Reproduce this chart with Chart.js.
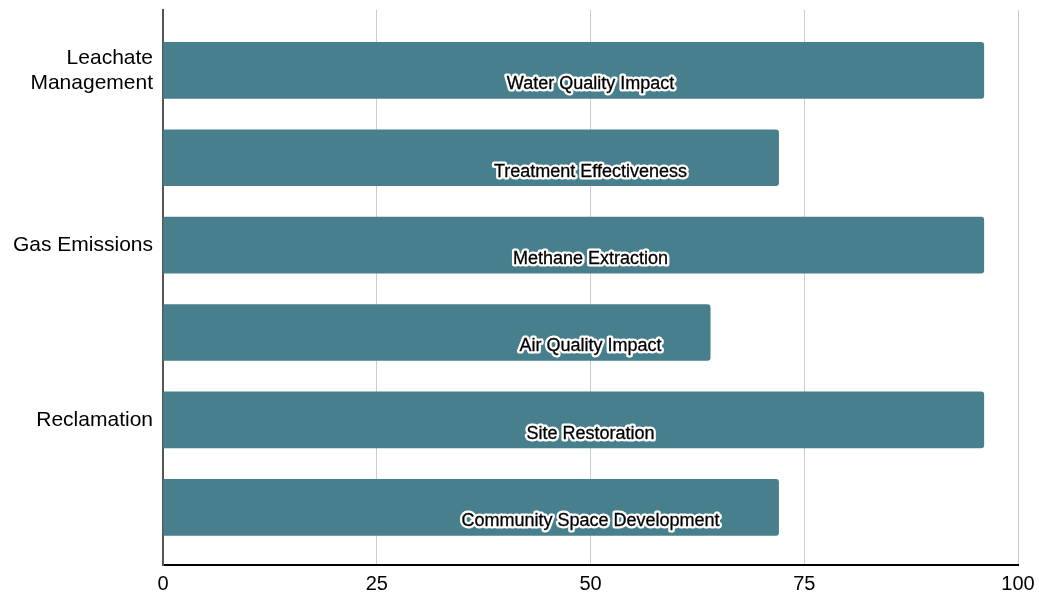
<!DOCTYPE html>
<html>
<head>
<meta charset="utf-8">
<script src="https://cdn.jsdelivr.net/npm/chart.js@4"></script>
<style>
  html, body { margin: 0; padding: 0; background: #fff; }
  #wrap { width: 1039px; height: 596px; }
</style>
</head>
<body>
<div id="wrap"><canvas id="chart" width="1039" height="596"></canvas></div>
<script>
// one bar per sub-metric, group labels only on every other bar
const groupLabels = [['Leachate', 'Management'], '', 'Gas Emissions', '', 'Reclamation', ''];
const barNames = [
  'Water Quality Impact',
  'Treatment Effectiveness',
  'Methane Extraction',
  'Air Quality Impact',
  'Site Restoration',
  'Community Space Development'
];
const barValues = [96, 72, 96, 64, 96, 72];
const xTicks = [0, 25, 50, 75, 100];

Chart.defaults.font.family = "'Liberation Sans', Arial, Helvetica, sans-serif";
Chart.defaults.color = '#000';

// draws the bar name with a white halo near the bottom of each bar
const barNamePlugin = {
  id: 'barNames',
  afterDatasetsDraw(chart) {
    const ctx = chart.ctx;
    const area = chart.chartArea;
    const cx = (area.left + area.right) / 2;
    const meta = chart.getDatasetMeta(0);
    ctx.save();
    ctx.font = "18px 'Liberation Sans', Arial, sans-serif";
    ctx.textAlign = 'center';
    ctx.textBaseline = 'middle';
    ctx.lineJoin = 'round';
    meta.data.forEach((bar, i) => {
      const y = bar.y + 14;
      ctx.lineWidth = 5;
      ctx.strokeStyle = '#fff';
      ctx.strokeText(barNames[i], cx, y);
      ctx.lineWidth = 0.3;
      ctx.strokeStyle = '#000';
      ctx.strokeText(barNames[i], cx, y);
      ctx.fillStyle = '#000';
      ctx.fillText(barNames[i], cx, y);
    });
    ctx.restore();
  }
};

function renderChart() {
  const ctx = document.getElementById('chart').getContext('2d');
  new Chart(ctx, {
    type: 'bar',
    data: {
      datasets: [{
        label: 'Score',
        data: barValues.map((v, i) => ({ x: v, y: i })),
        backgroundColor: '#47808c',
        borderRadius: 3,
        borderSkipped: 'start',
        barThickness: 56
      }]
    },
    options: {
      indexAxis: 'y',
      responsive: false,
      animation: false,
      layout: { padding: { top: 10, right: 0, bottom: 0, left: 0 } },
      plugins: {
        legend: { display: false },
        tooltip: { enabled: false }
      },
      scales: {
        x: {
          type: 'linear',
          min: 0,
          max: 100,
          afterBuildTicks: (scale) => { scale.ticks = xTicks.map(v => ({ value: v })); },
          afterFit: (scale) => {
            scale.height = 31;
            scale.paddingRight = 21;
            scale.paddingLeft = 0;
          },
          ticks: { font: { size: 20 }, padding: 7, color: '#000' },
          grid: { color: '#cccccc', lineWidth: 1, drawTicks: false },
          border: { color: '#000', width: 2 }
        },
        y: {
          type: 'linear',
          reverse: true,
          offset: false,
          min: -0.69,
          max: 5.66,
          afterFit: (scale) => {
            scale.width = 163;
            scale.paddingTop = 0;
            scale.paddingBottom = 0;
          },
          ticks: {
            stepSize: 1,
            includeBounds: false,
            autoSkip: false,
            font: { size: 21 },
            padding: 10,
            color: '#000',
            callback: (v) => groupLabels[v] !== undefined ? groupLabels[v] : ''
          },
          grid: { display: false, drawTicks: false, offset: false },
          border: { color: '#555', width: 2 }
        }
      }
    },
    plugins: [barNamePlugin]
  });
}

document.addEventListener('DOMContentLoaded', renderChart);
</script>
</body>
</html>
